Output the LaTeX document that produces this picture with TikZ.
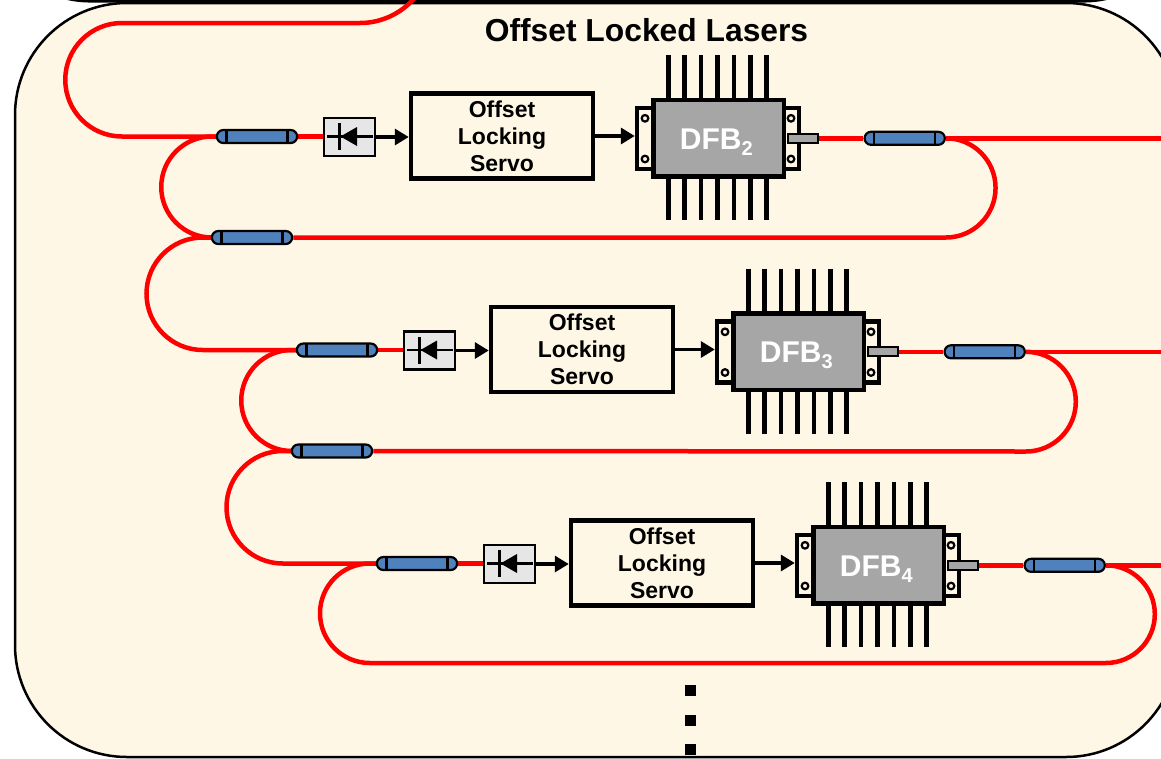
\documentclass[tikz,border=0pt]{standalone}
\usepackage{fontspec}
\setmainfont{Liberation Sans}
\usetikzlibrary{arrows.meta,calc}

\definecolor{panel}{RGB}{254,247,229}
\definecolor{fibre}{RGB}{255,0,0}
\definecolor{couplerblue}{RGB}{79,129,189}
\definecolor{pdgray}{RGB}{230,230,230}
\definecolor{chipgray}{RGB}{166,166,166}

\pgfdeclarelayer{back}
\pgfdeclarelayer{fibres}
\pgfsetlayers{back,fibres,main}

\newcommand\chipsub[1]{\raisebox{-6pt}{\fontsize{20}{20}\selectfont #1}}

\tikzset{
  fiber/.style={draw=fibre, line width=4.5pt},
  cplr/.style={draw=black, line width=2.2pt, fill=couplerblue, rounded corners=6.5pt,
    minimum width=80.3pt, minimum height=13pt, inner sep=0pt,
    path picture={
      \draw[line width=2.2pt] ([xshift=9.7pt]path picture bounding box.north west)
        -- ([xshift=9.7pt]path picture bounding box.south west);
      \draw[line width=2.2pt] ([xshift=-9.7pt]path picture bounding box.north east)
        -- ([xshift=-9.7pt]path picture bounding box.south east);}},
  pdbox/.style={draw, line width=2.4pt, fill=pdgray, minimum width=51pt,
    minimum height=38pt, inner sep=0pt},
  servobox/.style={draw, line width=4.5pt, minimum width=182pt, minimum height=85pt,
    align=center, inner sep=0pt, font=\fontsize{23}{27.2}\selectfont\bfseries},
  flange/.style={draw, line width=4.4pt, fill=panel, minimum width=18pt,
    minimum height=61pt, inner sep=0pt},
  chipbody/.style={draw, line width=4.4pt, fill=chipgray, minimum width=130.5pt,
    minimum height=76.5pt, inner sep=0pt},
  chiplabel/.style={text=white, anchor=base, inner sep=0pt,
    font=\fontsize{30}{30}\selectfont\bfseries},
  pigtail/.style={draw, line width=2.2pt, fill=chipgray, minimum width=30.3pt,
    minimum height=9pt, inner sep=0pt},
  leadpin/.style={line width=4.6pt},
  screwhole/.style={draw, line width=2.2pt, fill=panel},
  sig/.style={line width=3.3pt, -{Triangle[length=14pt,width=16pt]}},
  dotmark/.style={fill=black, minimum size=11pt, inner sep=0pt},
}

\begin{document}
\begin{tikzpicture}[x=1pt,y=1pt]
\useasboundingbox (0,0) rectangle (1161,-758);

% enclosing panels
\begin{pgfonlayer}{back}
  \draw[line width=3.5pt, rounded corners=100pt]
    (-10,120) -- (-10,-0.8) -- (1184,-0.8) -- (1184,120);
  \draw[line width=2.5pt, fill=panel, rounded corners=112pt]
    (15,-3) rectangle (1178,-757);
\end{pgfonlayer}

\node[anchor=base, inner sep=0pt, font=\fontsize{31.8}{36}\selectfont\bfseries]
  (title) at (646.5,-41) {Offset Locked Lasers};

% one laser stage per row
\foreach \r/\n in {0/2,1/3,2/4}{
  \begin{scope}[shift={(80*\r,-213.5*\r)}]
    \node[cplr] (A\r) at (257,-136.5) {};
    \node[pdbox] (P\r) at (349.5,-137) {};
    \draw[line width=2.7pt] (327,-136.5) -- (372.5,-136.5);
    \draw[line width=3.2pt] (339.3,-123) -- (339.3,-150);
    \fill (340.5,-136.5) -- (357,-127) -- (357,-146) -- cycle;
    \node[servobox] (S\r) at (502,-136) {Offset\\Locking\\Servo};
    \foreach \k in {0,...,6}{
      \draw[leadpin] (668.3+16.4*\k,-55) -- ++(0,-45);
      \draw[leadpin] (668.3+16.4*\k,-176.5) -- ++(0,-43.5);
    }
    \node[flange] (FL\r) at (646,-138.4) {};
    \node[flange] (FR\r) at (790,-138.4) {};
    \draw[screwhole] (645,-118.3) circle[radius=3.3pt];
    \draw[screwhole] (645,-159) circle[radius=3.3pt];
    \draw[screwhole] (791,-118.3) circle[radius=3.3pt];
    \draw[screwhole] (791,-159) circle[radius=3.3pt];
    \node[chipbody] (D\r) at (718.75,-138.25) {};
    \node[chiplabel] (T\r) at (716.25,-149) {DFB\chipsub{\n}};
    \node[pigtail] (G\r) at (802.85,-138.3) {};
    \node[cplr] (C\r) at (904.7,-138.3) {};
    \draw[sig] (P\r.east) -- (P\r.east -| S\r.west);
    \draw[sig] (S\r.east) -- (S\r.east -| FL\r.west);
    \begin{pgfonlayer}{fibres}
      \draw[fiber] (A\r.east) -- (A\r.east -| P\r.west);
      \draw[fiber] (G\r.east) -- (C\r.west);
      \draw[fiber] (C\r.east) -- ++(230,0);
    \end{pgfonlayer}
  \end{scope}
}

% lower taps of the first two stages
\node[cplr] (B0) at (252,-237.5) {};
\node[cplr] (B1) at (332,-451) {};

% fibre routing between the stages
\begin{pgfonlayer}{fibres}
  \draw[fiber] (A0.west) -- (122,-136.5) arc[start angle=270,end angle=90,radius=56.75]
    -- (360,-23) arc[start angle=270,end angle=345,radius=72];
  \draw[fiber] (A0.west) -- ++(-4,0) arc[start angle=90,end angle=270,radius=50.5] -- (B0.west);
  \draw[fiber] (A1.west) -- ++(-4,0) arc[start angle=90,end angle=270,radius=50.5] -- (B1.west);
  \draw[fiber] (B0.west) -- ++(-8,0) arc[start angle=90,end angle=270,radius=56.25] -- (A1.west);
  \draw[fiber] (B1.west) -- ++(-8,0) arc[start angle=90,end angle=270,radius=56.25] -- (A2.west);
  \draw[fiber] (C0.east) arc[start angle=90,end angle=-90,radius=49.6] -- (B0.east);
  \draw[fiber] (C1.east) arc[start angle=90,end angle=-90,radius=49.85] -- (B1.east);
  \draw[fiber] (A2.west) -- ++(-6,0) arc[start angle=90,end angle=270,radius=49.75]
    -- ($(C2.east)+(0,-97.7)$) arc[start angle=-90,end angle=90,radius=48.85];
\end{pgfonlayer}

% continuation marks
\node[dotmark] (d1) at (690.5,-690.5) {};
\node[dotmark] (d2) at (690.5,-720.5) {};
\node[dotmark] (d3) at (690.5,-749.5) {};
\end{tikzpicture}
\end{document}
